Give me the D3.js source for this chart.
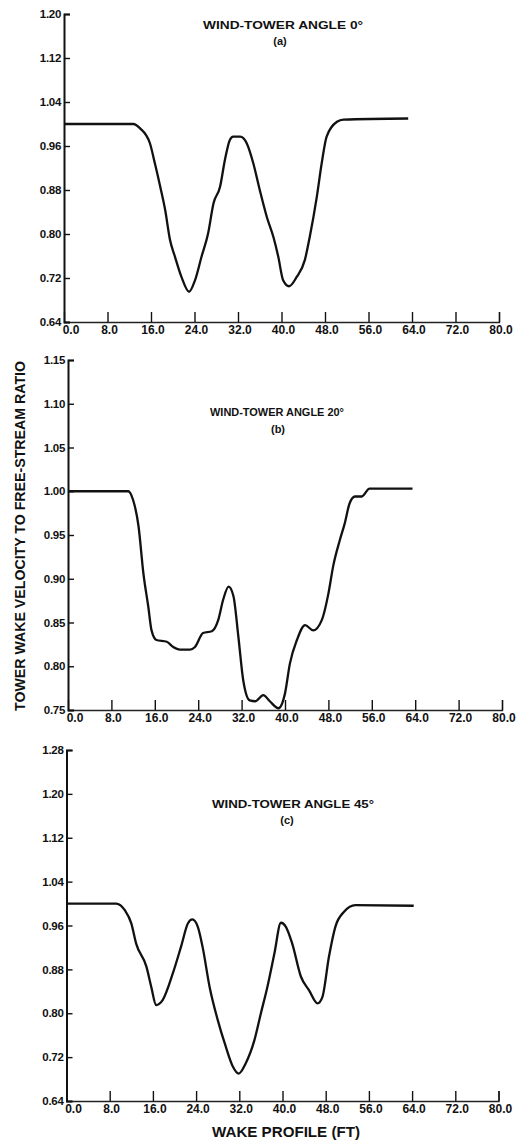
<!DOCTYPE html>
<html>
<head>
<meta charset="utf-8">
<script src="https://cdn.jsdelivr.net/npm/d3@7"></script>
<style>
  html, body { margin: 0; padding: 0; background: #fff; }
  svg { display: block; }
  text { font-family: "Liberation Sans", Arial, sans-serif; fill: #111; }
</style>
</head>
<body>
<svg id="chart" width="524" height="1141"></svg>
<script>
// ---------- DATA ----------
const xTicks = [0, 8, 16, 24, 32, 40, 48, 56, 64, 72, 80];
const xTickLabels = ["0.0", "8.0", "16.0", "24.0", "32.0", "40.0", "48.0", "56.0", "64.0", "72.0", "80.0"];

const aYTicks = [0.64, 0.72, 0.80, 0.88, 0.96, 1.04, 1.12, 1.20];
const bYTicks = [0.75, 0.80, 0.85, 0.90, 0.95, 1.00, 1.05, 1.10, 1.15];
const cYTicks = [0.64, 0.72, 0.80, 0.88, 0.96, 1.04, 1.12, 1.20, 1.28];

// Panel (a) wind-tower angle 0°
const aX = [0, 12.75, 14.0, 15.8, 16.7, 17.7, 18.6, 19.5, 20.4, 21.6, 23.0, 24.1, 25.3, 26.5, 27.5, 28.7, 29.6, 30.5, 31.1, 32.4, 33.6, 34.8, 36.0, 37.3, 38.5, 39.4, 40.3, 41.4, 42.8, 44.3, 45.2, 46.5, 47.4, 48.3, 50.2, 51.4, 63.3];
const aV = [1.000, 1.000, 0.992, 0.965, 0.929, 0.886, 0.844, 0.789, 0.759, 0.722, 0.695, 0.716, 0.759, 0.801, 0.856, 0.886, 0.935, 0.971, 0.977, 0.977, 0.965, 0.929, 0.880, 0.831, 0.795, 0.759, 0.716, 0.705, 0.722, 0.753, 0.795, 0.868, 0.929, 0.977, 1.004, 1.008, 1.010];

// Panel (b) wind-tower angle 20°
const bX = [0, 11.1, 12.0, 13.0, 13.9, 14.8, 15.4, 16.3, 18.2, 19.4, 20.6, 22.5, 23.4, 24.9, 26.5, 27.7, 28.6, 29.6, 30.5, 31.4, 32.3, 33.5, 34.5, 36.0, 37.2, 38.8, 40.0, 40.9, 42.2, 43.7, 45.2, 46.8, 48.0, 48.9, 50.1, 51.0, 51.9, 52.9, 54.1, 55.6, 63.5];
const bV = [1.000, 1.000, 0.990, 0.960, 0.906, 0.868, 0.841, 0.830, 0.828, 0.822, 0.819, 0.819, 0.822, 0.838, 0.840, 0.853, 0.876, 0.891, 0.880, 0.834, 0.784, 0.761, 0.760, 0.767, 0.760, 0.752, 0.769, 0.803, 0.830, 0.847, 0.841, 0.853, 0.883, 0.915, 0.944, 0.963, 0.986, 0.994, 0.994, 1.003, 1.003];

// Panel (c) wind-tower angle 45°
const cX = [0, 9.2, 10.8, 12.0, 12.9, 14.8, 15.7, 16.6, 17.8, 19.7, 21.2, 22.5, 23.3, 24.3, 25.2, 26.5, 28.0, 29.5, 30.8, 31.9, 33.2, 34.8, 36.0, 37.2, 38.5, 39.7, 40.6, 41.8, 43.4, 44.9, 46.5, 47.4, 48.6, 49.8, 51.4, 53.5, 64.3];
const cV = [1.000, 1.000, 0.988, 0.964, 0.927, 0.885, 0.848, 0.815, 0.824, 0.873, 0.921, 0.964, 0.971, 0.958, 0.921, 0.848, 0.788, 0.739, 0.703, 0.690, 0.709, 0.751, 0.800, 0.848, 0.909, 0.965, 0.958, 0.927, 0.867, 0.842, 0.818, 0.830, 0.903, 0.958, 0.985, 0.997, 0.996];

const titles = ["WIND-TOWER ANGLE 0\u00B0", "WIND-TOWER ANGLE 20\u00B0", "WIND-TOWER ANGLE 45\u00B0"];
const subtitles = ["(a)", "(b)", "(c)"];
const yAxisLabel = "TOWER WAKE VELOCITY TO FREE-STREAM RATIO";
const xAxisLabel = "WAKE PROFILE (FT)";

// ---------- LAYOUT ----------
const panels = [
  { xs: aX, vs: aV, yTicks: aYTicks, dom: [0.64, 1.20], xr: [64, 499], yr: [322, 14],
    title: titles[0], sub: subtitles[0], tx: 283, ty: 29, tlen: 160, sx: 280, sy: 45 },
  { xs: bX, vs: bV, yTicks: bYTicks, dom: [0.75, 1.15], xr: [68, 502], yr: [710, 360],
    title: titles[1], sub: subtitles[1], tx: 277, ty: 416, tlen: 134, sx: 278, sy: 433 },
  { xs: cX, vs: cV, yTicks: cYTicks, dom: [0.64, 1.28], xr: [66.5, 498.5], yr: [1101, 750],
    title: titles[2], sub: subtitles[2], tx: 293, ty: 808, tlen: 162, sx: 287, sy: 824 }
];

const svg = d3.select("#chart");

panels.forEach(p => {
  const x = d3.scaleLinear().domain([0, 80]).range(p.xr);
  const y = d3.scaleLinear().domain(p.dom).range(p.yr);
  const g = svg.append("g");

  // X axis: baseline with upward ticks
  const xAxis = d3.axisTop(x).tickValues(xTicks).tickSize(10).tickFormat("");
  const gx = g.append("g").attr("transform", `translate(0,${p.yr[0]})`).call(xAxis);
  gx.select(".domain").attr("stroke", "#222").attr("stroke-width", 1.3);
  gx.selectAll(".tick line").attr("stroke", "#111").attr("stroke-width", 1.4);
  gx.selectAll(".tick").filter(d => d === 0).select("line").remove();

  g.append("g").selectAll("text")
    .data(xTicks)
    .join("text")
    .attr("x", (d, i) => x(d) + (i === 0 ? 7 : 2))
    .attr("y", p.yr[0] + 11.5)
    .attr("text-anchor", "middle")
    .attr("font-size", 12)
    .attr("font-weight", "bold")
    .text((d, i) => xTickLabels[i]);

  // Y axis: line with inward ticks
  const yAxis = d3.axisRight(y).tickValues(p.yTicks).tickSize(6).tickFormat("");
  const gy = g.append("g").attr("transform", `translate(${p.xr[0]},0)`).call(yAxis);
  gy.select(".domain").attr("stroke", "#111").attr("stroke-width", 2);
  gy.selectAll(".tick line").attr("stroke", "#111").attr("stroke-width", 1.4);

  g.append("g").selectAll("text")
    .data(p.yTicks)
    .join("text")
    .attr("x", p.xr[0] - 3)
    .attr("y", d => y(d))
    .attr("dy", "0.36em")
    .attr("text-anchor", "end")
    .attr("font-size", 11.5)
    .attr("font-weight", "bold")
    .attr("letter-spacing", -0.3)
    .text(d => d3.format(".2f")(d));

  // Curve
  const data = p.xs.map((v, i) => [v, p.vs[i]]);
  const line = d3.line()
    .x(d => x(d[0]))
    .y(d => y(d[1]))
    .curve(d3.curveMonotoneX);
  g.append("path")
    .datum(data)
    .attr("d", line)
    .attr("fill", "none")
    .attr("stroke", "#111")
    .attr("stroke-width", 2.3)
    .attr("stroke-linejoin", "round");

  // Titles
  g.append("text")
    .attr("x", p.tx).attr("y", p.ty)
    .attr("text-anchor", "middle")
    .attr("font-size", 11.5)
    .attr("font-weight", "bold")
    .attr("textLength", p.tlen)
    .attr("lengthAdjust", "spacingAndGlyphs")
    .text(p.title);
  g.append("text")
    .attr("x", p.sx).attr("y", p.sy)
    .attr("text-anchor", "middle")
    .attr("font-size", 11)
    .attr("font-weight", "bold")
    .text(p.sub);
});

// Shared axis labels
svg.append("text")
  .attr("transform", "translate(25,536) rotate(-90)")
  .attr("text-anchor", "middle")
  .attr("font-size", 14)
  .attr("font-weight", "bold")
  .attr("textLength", 350)
  .attr("lengthAdjust", "spacingAndGlyphs")
  .text(yAxisLabel);

svg.append("text")
  .attr("x", 286).attr("y", 1137)
  .attr("text-anchor", "middle")
  .attr("font-size", 15)
  .attr("textLength", 148)
  .attr("lengthAdjust", "spacingAndGlyphs")
  .attr("font-weight", "bold")
  .text(xAxisLabel);
</script>
</body>
</html>
